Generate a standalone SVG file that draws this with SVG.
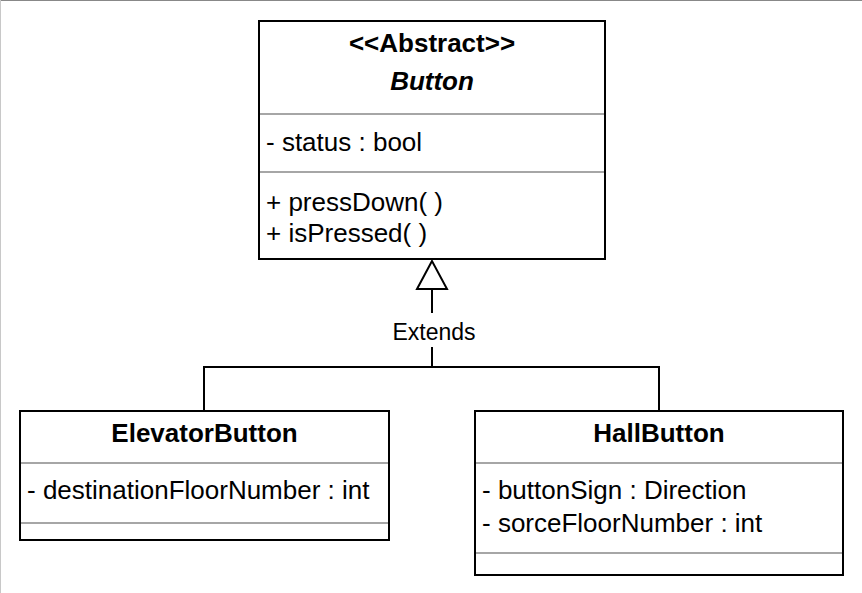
<svg xmlns="http://www.w3.org/2000/svg" width="862" height="593" viewBox="0 0 862 593">
<style>
.box{fill:#fff;stroke:#000;stroke-width:2}
.div{stroke:#a6a6a6;stroke-width:2}
.t{font-family:"Liberation Sans",Arial,sans-serif;font-size:26px;fill:#000}
.b{font-weight:bold}
.c{text-anchor:middle}
.conn{fill:none;stroke:#000;stroke-width:2}
.lbl{font-family:"Liberation Sans",Arial,sans-serif;font-size:23px;fill:#000;text-anchor:middle}
</style>
<rect x="0" y="0" width="862" height="593" fill="#fff"/>
<line x1="0" y1="0.5" x2="862" y2="0.5" stroke="#888" stroke-width="1"/>
<line x1="0.5" y1="0" x2="0.5" y2="593" stroke="#c8c8c8" stroke-width="1"/>
<g id="connectors">
<polyline class="conn" points="204,411 204,367 659,367 659,411"/>
<line class="conn" x1="432" y1="367" x2="432" y2="289"/>
<polygon points="432,261 417,289 447,289" fill="#fff" stroke="#000" stroke-width="2"/>
<rect x="390" y="313" width="90" height="34" fill="#fff"/>
<text class="lbl" x="434" y="340">Extends</text>
</g>
<g id="Button">
<rect class="box" x="259" y="21" width="346" height="238"/>
<line class="div" x1="260" y1="114" x2="604" y2="114"/>
<line class="div" x1="260" y1="172" x2="604" y2="172"/>
<text class="t b c" x="432" y="52">&lt;&lt;Abstract&gt;&gt;</text>
<text class="t b c" x="432" y="90" font-style="italic">Button</text>
<text class="t" x="266" y="151">- status : bool</text>
<text class="t" x="266" y="211">+ pressDown( )</text>
<text class="t" x="266" y="242">+ isPressed( )</text>
</g>
<g id="ElevatorButton">
<rect class="box" x="20" y="411" width="369" height="129"/>
<line class="div" x1="21" y1="463" x2="388" y2="463"/>
<line class="div" x1="21" y1="523" x2="388" y2="523"/>
<text class="t b c" x="204.5" y="442">ElevatorButton</text>
<text class="t" x="27" y="499">- destinationFloorNumber : int</text>
</g>
<g id="HallButton">
<rect class="box" x="475" y="411" width="368" height="164"/>
<line class="div" x1="476" y1="463" x2="842" y2="463"/>
<line class="div" x1="476" y1="553" x2="842" y2="553"/>
<text class="t b c" x="659" y="442">HallButton</text>
<text class="t" x="482" y="499">- buttonSign : Direction</text>
<text class="t" x="482" y="532">- sorceFloorNumber : int</text>
</g>
</svg>
